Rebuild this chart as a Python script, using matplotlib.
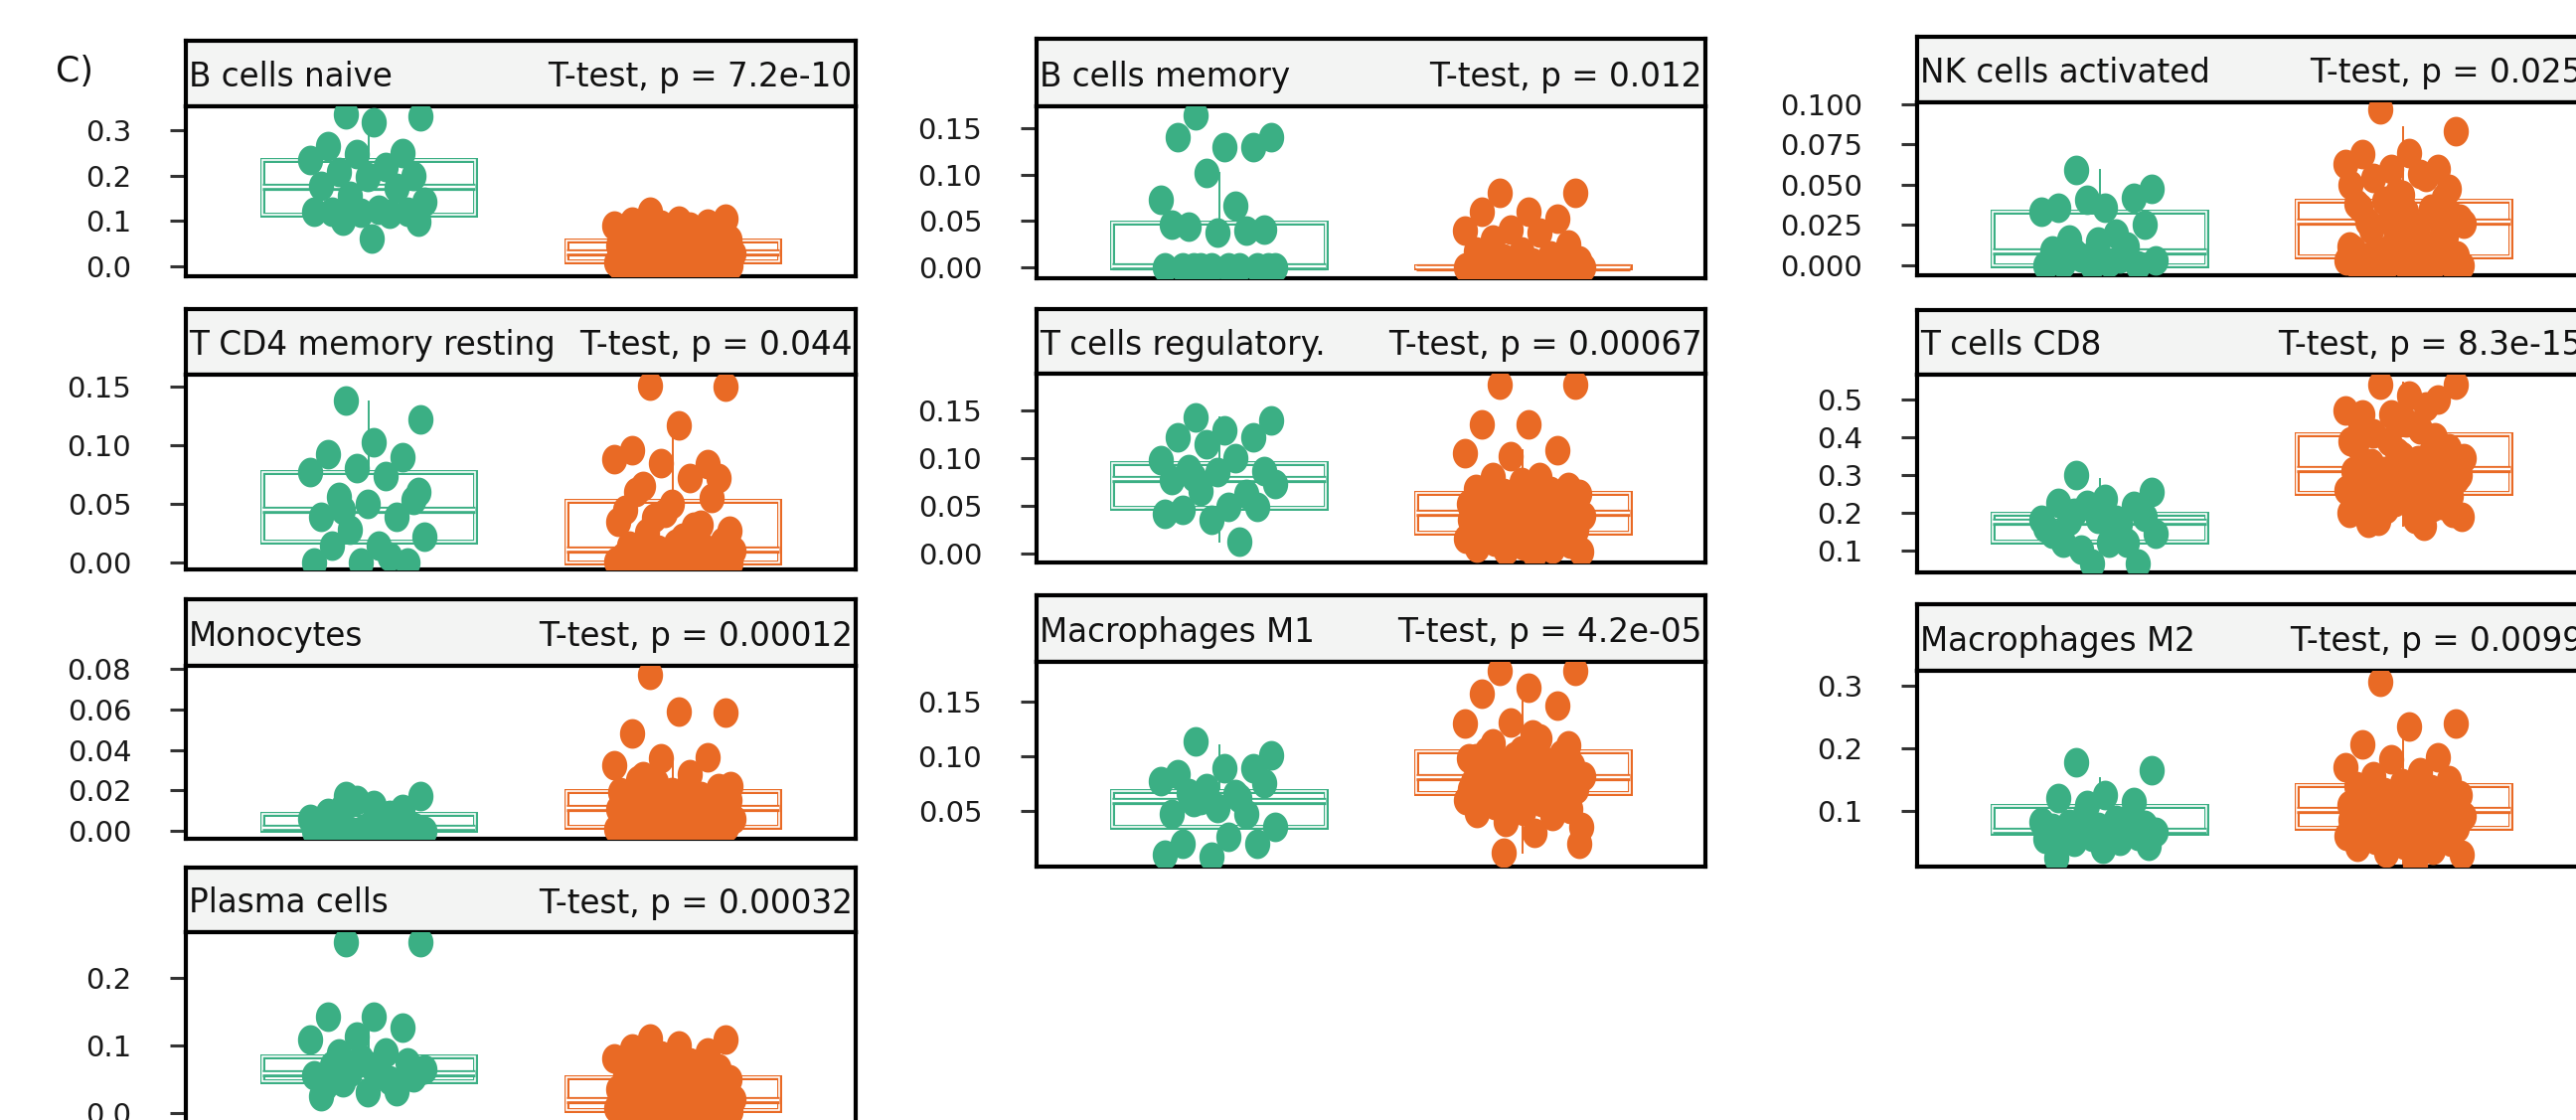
import numpy as np
import matplotlib
matplotlib.use("Agg")
import matplotlib.pyplot as plt
from matplotlib.patches import Rectangle

plt.rcParams['font.family'] = ['DejaVu Sans']

# ---------------- data ----------------
titles = ["B cells naive", "B cells memory", "NK cells activated",
          "T CD4 memory resting", "T cells regulatory.", "T cells CD8",
          "Monocytes", "Macrophages M1", "Macrophages M2", "Plasma cells"]
pvals = ["T-test, p = 7.2e-10", "T-test, p = 0.012", "T-test, p = 0.025",
         "T-test, p = 0.044", "T-test, p = 0.00067", "T-test, p = 8.3e-15",
         "T-test, p = 0.00012", "T-test, p = 4.2e-05", "T-test, p = 0.0099",
         "T-test, p = 0.00032"]

b_naive_g = [0.335, 0.330, 0.317, 0.265, 0.250, 0.247, 0.234, 0.220, 0.207, 0.200, 0.197, 0.178,
             0.172, 0.156, 0.142, 0.125, 0.120, 0.120, 0.118, 0.120, 0.115, 0.100, 0.098, 0.061]
b_naive_o = [0.120, 0.105, 0.100, 0.098, 0.095, 0.092, 0.090, 0.088, 0.085, 0.080, 0.075, 0.070,
             0.066, 0.062, 0.058, 0.055, 0.052, 0.050, 0.047, 0.045, 0.042, 0.040, 0.038, 0.035,
             0.033, 0.031, 0.030, 0.029, 0.027, 0.025, 0.023, 0.021, 0.020, 0.018, 0.016, 0.015,
             0.013, 0.012, 0.011, 0.010, 0.009, 0.008, 0.007, 0.006, 0.005, 0.004, 0.003, 0.003,
             0.002, 0.002, 0.001, 0.001, 0.000, 0.000, 0.000]
b_mem_g = [0.164, 0.140, 0.130, 0.140, 0.130, 0.102, 0.073, 0.066, 0.044, 0.041, 0.037, 0.046,
           0.040, 0.0, 0.0, 0.0, 0.0, 0.0, 0.0, 0.0, 0.0, 0.0, 0.0]
b_mem_o = [0.080, 0.080, 0.060, 0.060, 0.052, 0.041, 0.040, 0.037, 0.030, 0.025, 0.017, 0.017,
           0.013, 0.010, 0.008, 0.005, 0.003] + [0.0] * 38
nk_g = [0.059, 0.0475, 0.036, 0.036, 0.042, 0.041, 0.033, 0.020, 0.016, 0.025, 0.015, 0.009,
        0.012, 0.005, 0.003, 0.002, 0.001, 0.0, 0.0, 0.0, 0.004, 0.008]
nk_o = [0.097, 0.083, 0.070, 0.069, 0.060, 0.060, 0.063, 0.057, 0.054, 0.0475, 0.044, 0.038,
        0.035, 0.040, 0.029, 0.025, 0.027, 0.020, 0.016, 0.012, 0.012, 0.009, 0.030, 0.033,
        0.036, 0.031, 0.028, 0.026, 0.024, 0.022, 0.018, 0.014, 0.010, 0.008, 0.007, 0.006,
        0.005, 0.005, 0.004, 0.003, 0.003, 0.002, 0.002, 0.001, 0.001, 0.0, 0.0, 0.0, 0.0,
        0.0, 0.0, 0.042, 0.045, 0.050, 0.055]
cd4_g = [0.138, 0.122, 0.102, 0.092, 0.090, 0.080, 0.077, 0.074, 0.056, 0.053, 0.050, 0.039,
         0.039, 0.028, 0.022, 0.014, 0.014, 0.0, 0.0, 0.0, 0.005, 0.045, 0.060]
cd4_o = [0.151, 0.150, 0.117, 0.096, 0.084, 0.085, 0.088, 0.072, 0.065, 0.072, 0.050, 0.045,
         0.032, 0.038, 0.027, 0.021, 0.060, 0.055, 0.042, 0.035, 0.030, 0.025, 0.018, 0.016,
         0.014, 0.012, 0.011, 0.010, 0.009, 0.008, 0.007, 0.006, 0.005, 0.005, 0.004, 0.004,
         0.003, 0.003, 0.002, 0.002, 0.001, 0.001, 0.001, 0.0, 0.0, 0.0, 0.0, 0.0, 0.0, 0.0,
         0.0, 0.0, 0.0, 0.0, 0.0]
treg_g = [0.143, 0.140, 0.129, 0.122, 0.122, 0.115, 0.098, 0.100, 0.0885, 0.086, 0.085, 0.077,
          0.0625, 0.066, 0.073, 0.049, 0.046, 0.049, 0.035, 0.042, 0.0125, 0.080]
treg_o = [0.177, 0.177, 0.135, 0.135, 0.108, 0.102, 0.105, 0.080, 0.080, 0.070, 0.075, 0.068,
          0.066, 0.064, 0.062, 0.060, 0.058, 0.056, 0.054, 0.052, 0.050, 0.048, 0.046, 0.045,
          0.044, 0.043, 0.042, 0.040, 0.038, 0.036, 0.034, 0.032, 0.030, 0.028, 0.027, 0.025,
          0.024, 0.022, 0.020, 0.018, 0.016, 0.014, 0.012, 0.010, 0.008, 0.006, 0.005, 0.003,
          0.002, 0.000, 0.065, 0.055, 0.047, 0.035, 0.026]
cd8_g = [0.300, 0.255, 0.237, 0.225, 0.218, 0.220, 0.181, 0.181, 0.178, 0.190, 0.185, 0.145,
         0.120, 0.103, 0.145, 0.120, 0.120, 0.066, 0.066, 0.160, 0.170, 0.200]
cd8_o = [0.540, 0.540, 0.510, 0.460, 0.500, 0.460, 0.470, 0.420, 0.410, 0.370, 0.350, 0.380,
         0.360, 0.310, 0.300, 0.280, 0.240, 0.220, 0.230, 0.200, 0.165, 0.180, 0.200, 0.440,
         0.430, 0.400, 0.390, 0.345, 0.340, 0.330, 0.320, 0.315, 0.310, 0.300, 0.295, 0.290,
         0.285, 0.275, 0.270, 0.265, 0.260, 0.255, 0.250, 0.245, 0.235, 0.225, 0.215, 0.210,
         0.190, 0.185, 0.175, 0.330, 0.360, 0.390, 0.480]
mono_g = [0.017, 0.017, 0.013, 0.009, 0.011, 0.015, 0.006, 0.004, 0.003, 0.002, 0.002, 0.001,
          0.001, 0.0, 0.0, 0.0, 0.0, 0.0, 0.0, 0.0, 0.008, 0.012]
mono_o = [0.077, 0.0585, 0.059, 0.048, 0.0365, 0.036, 0.0325, 0.028, 0.027, 0.021, 0.019, 0.018,
          0.017, 0.016, 0.015, 0.014, 0.013, 0.012, 0.012, 0.011, 0.011, 0.010, 0.010, 0.009,
          0.008, 0.008, 0.007, 0.006, 0.006, 0.005, 0.005, 0.004, 0.004, 0.003, 0.003, 0.002,
          0.002, 0.002, 0.001, 0.001, 0.001, 0.0, 0.0, 0.0, 0.0, 0.0, 0.0, 0.024, 0.022, 0.020,
          0.025, 0.014, 0.013, 0.019, 0.016]
m1_g = [0.113, 0.101, 0.089, 0.083, 0.089, 0.071, 0.077, 0.065, 0.066, 0.075, 0.053, 0.047,
        0.047, 0.060, 0.035, 0.026, 0.020, 0.020, 0.008, 0.010, 0.062, 0.058]
m1_o = [0.178, 0.178, 0.162, 0.157, 0.146, 0.131, 0.130, 0.116, 0.112, 0.110, 0.105, 0.098,
        0.083, 0.012, 0.020, 0.120, 0.104, 0.102, 0.100, 0.098, 0.096, 0.094, 0.092, 0.090,
        0.088, 0.086, 0.084, 0.082, 0.081, 0.080, 0.079, 0.078, 0.076, 0.074, 0.072, 0.070,
        0.068, 0.066, 0.064, 0.062, 0.060, 0.058, 0.055, 0.052, 0.050, 0.048, 0.045, 0.040,
        0.035, 0.030, 0.087, 0.085, 0.075, 0.070, 0.065]
m2_g = [0.178, 0.165, 0.125, 0.120, 0.115, 0.110, 0.083, 0.085, 0.080, 0.078, 0.075, 0.073,
        0.070, 0.068, 0.066, 0.064, 0.062, 0.060, 0.058, 0.055, 0.052, 0.050, 0.045, 0.040,
        0.025, 0.090, 0.095]
m2_o = [0.307, 0.240, 0.235, 0.207, 0.185, 0.183, 0.170, 0.162, 0.155, 0.150, 0.145, 0.140,
        0.135, 0.130, 0.125, 0.120, 0.118, 0.115, 0.112, 0.110, 0.108, 0.105, 0.103, 0.102,
        0.100, 0.098, 0.095, 0.092, 0.090, 0.088, 0.085, 0.082, 0.080, 0.078, 0.075, 0.073,
        0.070, 0.068, 0.065, 0.062, 0.060, 0.057, 0.054, 0.050, 0.046, 0.042, 0.038, 0.034,
        0.030, 0.014, 0.128, 0.110, 0.097, 0.086, 0.076]
plasma_g = [0.253, 0.253, 0.142, 0.142, 0.126, 0.113, 0.108, 0.089, 0.088, 0.052, 0.030, 0.025,
            0.032, 0.060, 0.065, 0.058, 0.070, 0.075, 0.080, 0.055, 0.048, 0.045, 0.062, 0.068,
            0.040]
plasma_o = [0.110, 0.108, 0.100, 0.095, 0.090, 0.085, 0.080, 0.075, 0.070, 0.066, 0.062, 0.058,
            0.055, 0.052, 0.050, 0.047, 0.044, 0.041, 0.038, 0.035, 0.033, 0.031, 0.029, 0.027,
            0.025, 0.023, 0.021, 0.020, 0.019, 0.018, 0.017, 0.016, 0.015, 0.014, 0.013, 0.012,
            0.011, 0.010, 0.009, 0.008, 0.007, 0.006, 0.005, 0.005, 0.004, 0.004, 0.003, 0.003,
            0.002, 0.002, 0.001, 0.001, 0.0, 0.0, 0.0]

# box stats: (q1, median, q3, whisker_low, whisker_high)
box_green = [(0.114, 0.175, 0.234, 0.061, 0.335), (0.0, 0.0015, 0.048, 0.0, 0.102),
             (0.0, 0.0086, 0.033, 0.0, 0.059), (0.018, 0.045, 0.077, 0.0, 0.137),
             (0.048, 0.078, 0.095, 0.0125, 0.143), (0.124, 0.176, 0.197, 0.077, 0.29),
             (0.0005, 0.0015, 0.0083, 0.0, 0.018), (0.0355, 0.059, 0.068, 0.008, 0.11),
             (0.065, 0.068, 0.108, 0.025, 0.152), (0.047, 0.059, 0.083, 0.025, 0.142)]
box_orange = [(0.011, 0.030, 0.057, 0.0, 0.12), (0.0, 0.0, 0.0008, 0.0, 0.0),
              (0.0055, 0.027, 0.040, 0.0, 0.086), (0.0, 0.011, 0.0525, 0.0, 0.117),
              (0.022, 0.043, 0.0635, 0.0, 0.108), (0.253, 0.315, 0.408, 0.165, 0.544),
              (0.002, 0.0113, 0.0196, 0.0, 0.036), (0.066, 0.081, 0.104, 0.012, 0.157),
              (0.073, 0.102, 0.141, 0.014, 0.24), (0.0045, 0.019, 0.052, 0.0, 0.11)]

green_vals = [b_naive_g, b_mem_g, nk_g, cd4_g, treg_g, cd8_g, mono_g, m1_g, m2_g, plasma_g]
orange_vals = [b_naive_o, b_mem_o, nk_o, cd4_o, treg_o, cd8_o, mono_o, m1_o, m2_o, plasma_o]

yticks = [[0.0, 0.1, 0.2, 0.3], [0.00, 0.05, 0.10, 0.15], [0.0, 0.025, 0.05, 0.075, 0.1],
          [0.00, 0.05, 0.10, 0.15], [0.00, 0.05, 0.10, 0.15], [0.1, 0.2, 0.3, 0.4, 0.5],
          [0.00, 0.02, 0.04, 0.06, 0.08], [0.05, 0.10, 0.15], [0.1, 0.2, 0.3], [0.0, 0.1, 0.2]]
ytick_labels = [["0.0", "0.1", "0.2", "0.3"], ["0.00", "0.05", "0.10", "0.15"],
                ["0.000", "0.025", "0.050", "0.075", "0.100"], ["0.00", "0.05", "0.10", "0.15"],
                ["0.00", "0.05", "0.10", "0.15"], ["0.1", "0.2", "0.3", "0.4", "0.5"],
                ["0.00", "0.02", "0.04", "0.06", "0.08"], ["0.05", "0.10", "0.15"],
                ["0.1", "0.2", "0.3"], ["0.0", "0.1", "0.2"]]
ylims = [(-0.022, 0.3525), (-0.0118, 0.1736), (-0.0062, 0.1012), (-0.006, 0.160),
         (-0.0094, 0.1885), (0.0424, 0.565), (-0.0039, 0.0815), (-0.001, 0.186),
         (0.011, 0.324), (-0.015, 0.267)]

# ---------------- layout (pixels) ----------------
W, H = 2592, 1127
# (left, right, strip_top, strip_bottom, bottom)
frames = [(187, 861, 41, 107, 278), (1043, 1716, 39, 107, 280), (1929, 2602, 37, 103, 277),
          (187, 861, 311, 377, 573), (1043, 1716, 311, 376, 566), (1929, 2602, 312, 377, 576),
          (187, 861, 603, 670, 844), (1043, 1716, 599, 666, 872), (1929, 2602, 608, 675, 872),
          (187, 861, 873, 938, 1130)]

GREEN = "#3BAF84"
ORANGE = "#E96A25"

fig = plt.figure(figsize=(W / 100, H / 100), dpi=100)

th = np.linspace(0, 2 * np.pi, 60)
ell = list(zip(0.85 * np.cos(th), np.sin(th)))

BW = 0.70


def jitter(n):
    return (((np.arange(n) * 0.6180339887 + 0.31) % 1.0) - 0.5) * 0.40


def draw_box(ax, pos, stats, color):
    q1, med, q3, lo, hi = stats
    ax.plot([pos, pos], [q3, hi], color=color, lw=1.4, zorder=1)
    ax.plot([pos, pos], [lo, q1], color=color, lw=1.4, zorder=1)
    ax.add_patch(Rectangle((pos - BW / 2, q1), BW, q3 - q1, fill=False,
                           edgecolor=color, lw=3.6, zorder=1.5))
    ax.add_patch(Rectangle((pos - BW / 2, q1), BW, q3 - q1, fill=False,
                           edgecolor="white", lw=1.2, zorder=1.6))
    ax.plot([pos - BW / 2, pos + BW / 2], [med, med], color=color, lw=5.2,
            solid_capstyle="butt", zorder=1.7)
    ax.plot([pos - BW / 2, pos + BW / 2], [med, med], color="white", lw=1.7,
            solid_capstyle="butt", zorder=1.8)


for i in range(len(titles)):
    l, r, st, sb, b = frames[i]
    ax_s = fig.add_axes([l / W, 1 - sb / H, (r - l) / W, (sb - st) / H])
    ax = fig.add_axes([l / W, 1 - b / H, (r - l) / W, (b - sb) / H])

    ax_s.set_facecolor("#F3F4F3")
    ax_s.set_xticks([])
    ax_s.set_yticks([])
    for sp in ax_s.spines.values():
        sp.set_linewidth(3.0)
        sp.set_color("black")
    ax_s.text(0.004, 0.30, titles[i], transform=ax_s.transAxes, ha="left",
              va="baseline", fontsize=23.5, color="#111111")
    ax_s.text(0.995, 0.30, pvals[i], transform=ax_s.transAxes, ha="right",
              va="baseline", fontsize=23.5, color="#111111")

    draw_box(ax, 1, box_green[i], GREEN)
    draw_box(ax, 2, box_orange[i], ORANGE)

    g = np.asarray(green_vals[i])
    o = np.asarray(orange_vals[i])
    ax.scatter(1 + jitter(len(g)), g, s=21.5 ** 2, marker=ell, color=GREEN,
               linewidths=0, zorder=3)
    ax.scatter(2 + jitter(len(o)), o, s=21.5 ** 2, marker=ell, color=ORANGE,
               linewidths=0, zorder=3)

    ax.set_xlim(0.4, 2.6)
    ax.set_ylim(*ylims[i])
    ax.set_xticks([])
    ax.set_yticks(yticks[i])
    ax.set_yticklabels(ytick_labels[i])
    ax.tick_params(axis="y", length=11.5, width=2.2, color="#333333", pad=28,
                   labelsize=21, labelcolor="#1a1a1a")
    for sp in ax.spines.values():
        sp.set_linewidth(3.0)
        sp.set_color("black")

fig.text(56 / W, 1 - 72 / H, "C)", fontsize=25, ha="left", va="center", color="#111111")

fig.savefig("out.png", dpi=100)
